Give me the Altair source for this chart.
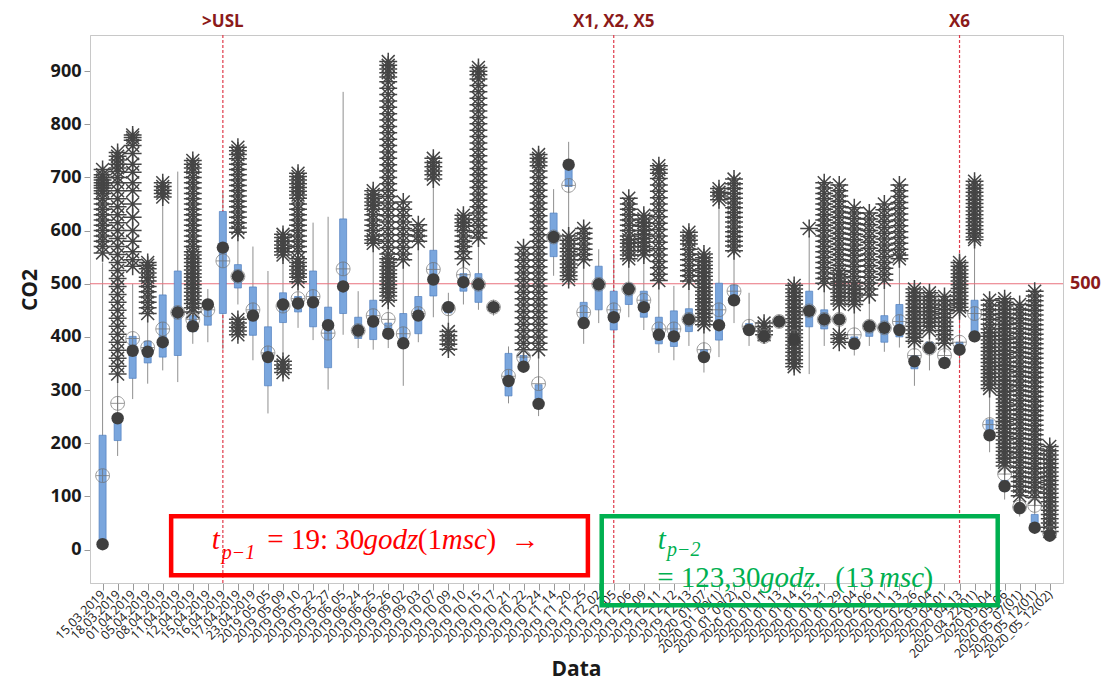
import altair as alt
import pandas as pd

DATES = [
    "15.03.2019", "18.03.2019", "01.04.2019", "05.04.2019", "08.04.2019", "11.04.2019", "12.04.2019", "15.04.2019",
    "16.04.2019", "17.04.2019", "23.04.2019", "2019_05_05", "2019_05_09", "2019_05_10", "2019_05_22", "2019_05_27",
    "2019_06_05", "2019_06_24", "2019_06_25", "2019_06_26", "2019_09_02", "2019_09_03", "2019_10_07", "2019_10_09",
    "2019_10_10", "2019_10_15", "2019_10_17", "2019_10_21", "2019_10_22", "2019_10_24", "2019_11_14", "2019_11_20",
    "2019_11_25", "2019_12_02", "2019_12_05", "2019_12_06", "2019_12_09", "2019_12_11", "2019_12_12", "2019_12_13",
    "2020_01_07", "2020_01_09(1)", "2020_01_09(2)", "2020_01_10", "2020_01_11", "2020_01_13", "2020_01_14", "2020_01_15",
    "2020_01_21", "2020_01_29", "2020_02_04", "2020_02_06", "2020_02_11", "2020_02_13", "2020_02_26", "2020_03_04",
    "2020_04_01", "2020_04_13", "2020_04_22(01)", "2020_05_04", "2020_05_06", "2020_05_07(01)", "2020_05_12(01)", "2020_05_12(02)",
]

LO = [0, 176, 283, 312, 337, 315, 387, 390, 376, 461,
      356, 256, 369, 417, 394, 301, 404, 379, 376, 379,
      308, 390, 437, 410, 461, 451, 440, 275, 335, 251,
      515, 600, 387, 426, 380, 437, 413, 370, 356, 383,
      333, 362, 426, 383, 390, 420, 385, 330, 383, 410,
      365, 383, 372, 380, 308, 337, 340, 347, 390, 183,
      94, 62, 30, 20]
Q1 = [5, 205, 322, 351, 362, 365, 410, 422, 444, 492,
      403, 308, 427, 447, 419, 342, 444, 397, 395, 397,
      380, 406, 477, 445, 486, 465, 450, 289, 340, 275,
      551, 683, 420, 451, 413, 461, 437, 387, 382, 410,
      355, 394, 465, 405, 395, 425, 390, 419, 415, 425,
      380, 401, 390, 400, 340, 370, 345, 370, 395, 210,
      110, 70, 40, 24]
MED = [10, 247, 374, 372, 390, 446, 420, 461, 568, 514,
       440, 362, 461, 463, 465, 422, 495, 412, 429, 406,
       388, 440, 508, 456, 503, 499, 456, 317, 344, 274,
       588, 724, 426, 499, 437, 490, 456, 404, 401, 433,
       362, 422, 469, 413, 401, 429, 395, 449, 433, 433,
       387, 420, 417, 413, 354, 379, 351, 376, 401, 215,
       119, 78, 41, 26]
Q3 = [215, 250, 401, 392, 479, 524, 440, 469, 636, 536,
      494, 419, 483, 476, 524, 456, 622, 437, 469, 426,
      444, 476, 563, 465, 519, 519, 460, 369, 365, 310,
      633, 725, 465, 533, 486, 500, 486, 437, 449, 453,
      376, 501, 497, 425, 404, 433, 400, 486, 451, 440,
      400, 429, 440, 461, 365, 390, 360, 390, 469, 244,
      130, 85, 66, 30]
HI = [540, 330, 500, 444, 654, 711, 447, 490, 675, 597,
      570, 524, 554, 504, 615, 626, 861, 486, 576, 469,
      540, 576, 697, 483, 547, 586, 470, 382, 372, 372,
      678, 767, 540, 565, 556, 547, 554, 501, 496, 501,
      419, 654, 558, 483, 404, 438, 405, 590, 501, 458,
      458, 476, 504, 547, 390, 412, 383, 447, 583, 301,
      155, 101, 98, 34]
MEAN = [139, 275, 397, 380, 415, 446, 433, 451, 543, 514,
        451, 370, 458, 472, 476, 407, 528, 412, 440, 433,
        406, 444, 527, 453, 517, 499, 456, 326, 362, 312,
        588, 685, 446, 499, 451, 490, 469, 415, 415, 433,
        376, 451, 486, 420, 401, 429, 400, 449, 433, 433,
        404, 420, 417, 429, 365, 379, 365, 390, 444, 235,
        142, 80, 83, 30]

OUTLIERS = {
    0: [715, 705, 700, 695, 690, 685, 680, 675, 670, 660, 650, 640, 630, 620, 610, 600, 590, 580, 570, 558],
    1: [747, 740, 733, 725, 718, 711, 700, 690, 675, 660, 645, 630, 615, 600, 585, 570, 555, 540, 525, 510,
        495, 480, 465, 450, 435, 420, 405, 390, 375, 360, 345, 330],
    2: [780, 775, 770, 760, 745, 725, 710, 690, 675, 650, 625, 600, 580, 560, 545, 533],
    3: [540, 535, 528, 520, 512, 505, 495, 485, 475, 465, 455, 444],
    4: [690, 683, 676, 670, 663],
    6: [732, 725, 718, 710, 700, 690, 680, 670, 660, 650, 640, 630, 620, 610, 600, 590, 580, 570, 560, 554,
        547, 540, 533, 526, 519, 512, 505, 498, 491, 484, 477, 470, 463, 455, 447],
    9: [757, 750, 743, 735, 725, 715, 705, 695, 685, 675, 665, 655, 645, 635, 625, 615, 605, 597,
        433, 426, 418, 411, 404],
    12: [593, 587, 580, 573, 567, 560, 554, 354, 347, 340, 333],
    13: [708, 702, 695, 688, 681, 674, 667, 661, 650, 640, 630, 620, 610, 600, 590, 580, 570, 560, 547, 540,
         533, 526, 519, 512, 504],
    18: [675, 668, 661, 654, 647, 640, 630, 620, 610, 600, 590, 583, 576],
    19: [918, 911, 904, 897, 889, 880, 868, 856, 844, 832, 820, 808, 796, 784, 772, 760, 748, 736, 724, 712,
         700, 688, 676, 664, 652, 640, 628, 616, 604, 592, 580, 568, 556, 547, 540, 533, 526, 519, 512, 505,
         498, 491, 484, 477, 469],
    20: [654, 640, 628, 616, 604, 592, 580, 568, 556, 545],
    21: [611, 600, 590, 580],
    22: [736, 728, 720, 712, 705, 697],
    23: [410, 402, 394, 386, 377],
    24: [629, 622, 615, 608, 600, 590, 580, 570, 560, 547],
    25: [907, 900, 893, 885, 873, 861, 849, 837, 825, 813, 801, 789, 777, 765, 753, 741, 729, 717, 705, 693,
         681, 669, 657, 645, 633, 621, 609, 597, 586],
    28: [568, 556, 544, 532, 520, 508, 496, 484, 472, 460, 448, 436, 424, 412, 400, 388, 376],
    29: [743, 736, 729, 722, 712, 700, 688, 676, 664, 652, 640, 628, 616, 604, 592, 580, 568, 556, 544, 532,
         520, 508, 496, 484, 472, 460, 448, 436, 424, 412, 400, 388, 376],
    31: [590, 582, 575, 567, 560, 552, 545, 537, 530, 522, 515, 508],
    32: [604, 595, 585, 575, 565, 555, 545],
    35: [661, 650, 640, 630, 620, 610, 600, 590, 583, 576, 569, 562, 554, 547],
    36: [629, 622, 615, 608, 600, 593, 585, 578, 570, 562, 554],
    37: [722, 715, 708, 698, 686, 674, 662, 650, 638, 626, 614, 602, 590, 578, 566, 554, 542, 530, 518, 506],
    39: [597, 590, 582, 575, 565, 555, 545, 535, 525, 515, 505],
    40: [556, 549, 542, 535, 528, 521, 514, 507, 500, 493, 486, 479, 472, 465, 458, 451, 444, 437, 430, 423],
    41: [679, 672, 665, 658],
    42: [697, 688, 679, 670, 661, 652, 643, 634, 625, 616, 607, 598, 589, 580, 571, 562],
    44: [426, 419, 411, 404],
    46: [497, 490, 483, 476, 469, 462, 455, 448, 441, 434, 427, 420, 413, 406, 399, 392, 385, 378, 371, 364,
         357, 350, 344],
    47: [604],
    48: [690, 680, 670, 660, 650, 640, 630, 620, 610, 600, 590, 580, 570, 560, 550, 540, 530, 520, 510, 501],
    49: [686, 675, 665, 655, 645, 635, 625, 615, 605, 595, 585, 575, 565, 555, 545, 535, 525, 518, 511, 504,
         497, 490, 483, 476, 469, 462, 404, 397, 390],
    50: [643, 633, 623, 613, 603, 593, 583, 573, 563, 553, 543, 533, 523, 513, 503, 496, 489, 482, 475, 468, 461],
    51: [633, 622, 611, 600, 589, 578, 567, 556, 545, 534, 523, 512, 501, 490, 479],
    52: [650, 639, 628, 617, 606, 595, 584, 573, 562, 551, 540, 529, 518, 507],
    53: [686, 675, 664, 653, 642, 631, 620, 609, 598, 587, 576, 565, 554, 547],
    54: [490, 483, 476, 469, 462, 455, 448, 441, 434, 427, 420, 413, 406, 399, 392],
    55: [483, 476, 469, 462, 455, 448, 441, 434, 427, 420, 412],
    56: [476, 468, 460, 452, 444, 436, 428, 420, 412, 404, 396, 388],
    57: [540, 533, 526, 519, 512, 505, 498, 491, 484, 477, 470, 463, 456, 449],
    58: [693, 686, 679, 672, 665, 658, 651, 644, 637, 630, 623, 616, 609, 602, 595, 588, 583],
    59: [469, 460, 451, 442, 433, 424, 415, 408, 401, 394, 387, 380, 373, 366, 359, 352, 345, 338, 331, 324,
         317, 310, 303],
    60: [472, 465, 458, 451, 444, 437, 430, 423, 416, 409, 402, 395, 388, 381, 374, 367, 360, 353, 346, 339,
         332, 325, 318, 311, 304, 297, 290, 283, 276, 269, 262, 255, 248, 241, 234, 227, 220, 213, 206, 199,
         192, 185, 178, 171, 164, 157],
    61: [461, 452, 443, 434, 425, 416, 407, 398, 389, 380, 371, 362, 353, 344, 335, 326, 317, 308, 299, 290,
         281, 272, 263, 254, 245, 236, 227, 218, 209, 200, 191, 182, 173, 164, 155, 146, 137, 128, 119, 110, 101],
    62: [486, 477, 468, 459, 450, 441, 432, 423, 414, 405, 396, 387, 378, 369, 360, 351, 342, 333, 324, 315,
         306, 297, 288, 279, 270, 261, 252, 243, 234, 225, 216, 207, 198, 189, 180, 171, 162, 153, 144, 135,
         126, 117, 108, 98],
    63: [194, 186, 178, 170, 162, 154, 146, 138, 130, 122, 114, 106, 98, 90, 82, 74, 66, 58, 50, 42, 34],
}

EVENT_IDX = [8, 34, 57]
EVENT_LABELS = [">USL", "X1, X2, X5", "X6"]
USL = [500]
Y_TICKS = list(range(0, 1000, 100))

# annotation boxes (x in category index units, y in CO2 units)
BOX_X0 = [4.56, 33.2]
BOX_X1 = [32.28, 59.54]
BOX_Y0 = [62.7, 62.7]
BOX_Y1 = [-48.5, -104.8]
BOX_COL = ["#ff0000", "#00b050"]

IT_TEXT = ["t", "p\u22121", "godz", "msc", "t", "p\u22122", "godz.", "msc"]
IT_X = [7.26, 7.92, 17.36, 22.56, 36.93, 37.55, 43.73, 51.64]
IT_Y = [17.5, -7.0, 17.5, 17.5, 17.5, -1.0, -53.0, -53.0]
IT_S = [29, 20, 29, 29, 29, 20, 29, 29]
IT_C = ["#ff0000"] * 4 + ["#00b050"] * 4

UP_TEXT = ["=", "19: 30", "(1", ")", "\u2192", "=", "123,30", "(13", ")"]
UP_X = [10.95, 12.53, 20.97, 25.53, 27.14, 36.89, 38.46, 48.74, 54.6]
UP_Y = [17.5, 17.5, 17.5, 17.5, 17.5, -53.0, -53.0, -53.0, -53.0]
UP_S = [29, 29, 29, 29, 29, 29, 29, 29, 29]
UP_C = ["#ff0000"] * 5 + ["#00b050"] * 4

N = len(DATES)
assert all(len(a) == N for a in [LO, Q1, MED, Q3, HI, MEAN])

W, H = 973, 548
xs = alt.Scale(domain=[-0.505, 63.55], nice=False, zero=False)
ys = alt.Scale(domain=[-63, 968], nice=False, zero=False)

label_expr = "[" + ",".join("'" + d + "'" for d in DATES) + "][datum.value]"

xaxis = alt.Axis(values=list(range(N)), labelExpr=label_expr, labelAngle=-45, labelAlign="right",
                 labelBaseline="middle", labelFontSize=12.5, labelFont="Open Sans", labelColor="#1a1a1a",
                 labelOverlap=False, labelPadding=2, tickSize=7, tickColor="#9a9a9a",
                 domainColor="#c8c8c8", grid=False, title=None, labelBound=False)
yaxis = alt.Axis(values=Y_TICKS, labelFontSize=18, labelFontWeight="bold", labelFont="Open Sans",
                 labelColor="#1a1a1a", tickSize=6, tickColor="#9a9a9a", domainColor="#c8c8c8",
                 grid=False, title=None, labelPadding=3)

box = pd.DataFrame({"idx": list(range(N)), "lo": LO, "q1": Q1, "med": MED, "q3": Q3, "hi": HI, "mean": MEAN})
out = pd.DataFrame([{"idx": k, "v": v} for k, vals in OUTLIERS.items() for v in vals])
ev = pd.DataFrame({"idx": EVENT_IDX, "label": EVENT_LABELS})
usl = pd.DataFrame({"v": USL})
boxes = pd.DataFrame({"x0": BOX_X0, "x1": BOX_X1, "y0": BOX_Y0, "y1": BOX_Y1, "c": BOX_COL})
it = pd.DataFrame({"t": IT_TEXT, "x": IT_X, "y": IT_Y, "s": IT_S, "c": IT_C})
up = pd.DataFrame({"t": UP_TEXT, "x": UP_X, "y": UP_Y, "s": UP_S, "c": UP_C})

ASTERISK = "M-1,0L1,0M0,-1L0,1M-0.72,-0.72L0.72,0.72M-0.72,0.72L0.72,-0.72"
CIRCLE_CROSS = "M-1,0A1,1,0,1,1,1,0A1,1,0,1,1,-1,0ZM-1,0L1,0M0,-1L0,1"


def XA(f):
    return alt.X(f, scale=xs, axis=xaxis)


def YA(f):
    return alt.Y(f, scale=ys, axis=yaxis)


whisk = alt.Chart(box).mark_rule(color="#8f8f8f", strokeWidth=1).encode(x=XA("idx:Q"), y=YA("lo:Q"), y2="hi:Q")

usl_rule = alt.Chart(usl).mark_rule(color="#e8707c", strokeWidth=1.2).encode(y=YA("v:Q"))
ev_rule = alt.Chart(ev).mark_rule(color="#e03a4a", strokeWidth=1.2, strokeDash=[3, 2]).encode(x=XA("idx:Q"))

bars = alt.Chart(box).mark_bar(size=7, color="#7aa6dd", stroke="#5080c0", strokeWidth=0.7).encode(
    x=XA("idx:Q"), y=YA("q1:Q"), y2="q3:Q")

outl = alt.Chart(out).mark_point(shape=ASTERISK, filled=False, size=320, strokeWidth=1.5,
                                 color="#454545", opacity=1).encode(x=XA("idx:Q"), y=YA("v:Q"))

means = alt.Chart(box).mark_point(shape=CIRCLE_CROSS, filled=False, size=190, strokeWidth=1,
                                  color="#6e6e6e").encode(x=XA("idx:Q"), y=YA("mean:Q"))
meds = alt.Chart(box).mark_circle(size=155, color="#3f3f3f", opacity=1).encode(x=XA("idx:Q"), y=YA("med:Q"))

rects = alt.Chart(boxes).mark_rect(fillOpacity=0, strokeWidth=4.5).encode(
    x=XA("x0:Q"), x2="x1:Q", y=YA("y0:Q"), y2="y1:Q", stroke=alt.Stroke("c:N", scale=None))

it_text = alt.Chart(it).mark_text(align="left", baseline="middle", font="Liberation Serif",
                                  fontStyle="italic").encode(
    x=XA("x:Q"), y=YA("y:Q"), text="t:N", color=alt.Color("c:N", scale=None), size=alt.Size("s:Q", scale=None))
up_text = alt.Chart(up).mark_text(align="left", baseline="middle", font="Liberation Serif").encode(
    x=XA("x:Q"), y=YA("y:Q"), text="t:N", color=alt.Color("c:N", scale=None), size=alt.Size("s:Q", scale=None))

ev_text = alt.Chart(ev).mark_text(fontSize=17, fontWeight="bold", font="Open Sans", color="#8b1a1a",
                                  baseline="middle").encode(x=XA("idx:Q"), y=alt.value(-13), text="label:N")
usl_text = alt.Chart(usl).mark_text(fontSize=18, fontWeight="bold", font="Open Sans", color="#8b1a1a",
                                    align="left", baseline="middle").encode(
    x=alt.value(W + 7), y=YA("v:Q"), text="v:Q")

x_title = alt.Chart(pd.DataFrame({"t": ["Data"]})).mark_text(
    fontSize=21, fontWeight="bold", font="Open Sans", color="#1a1a1a", baseline="alphabetic").encode(
    x=alt.value(W / 2), y=alt.value(641), text="t:N")
y_title = alt.Chart(pd.DataFrame({"t": ["CO2"]})).mark_text(
    fontSize=21, fontWeight="bold", font="Open Sans", color="#1a1a1a", angle=270, baseline="middle").encode(
    x=alt.value(-59), y=alt.value(255), text="t:N")

chart = alt.layer(
    whisk, usl_rule, ev_rule, bars, outl, means, meds, rects, it_text, up_text, ev_text, usl_text, x_title, y_title
).properties(
    width=W, height=H,
    autosize=alt.AutoSizeParams(type="none"),
    padding={"left": 82, "top": 27, "right": 42, "bottom": 101},
).configure_view(stroke="#c8c8c8", strokeWidth=1)

chart.save("out.html", embed_options={"renderer": "svg", "actions": False})
